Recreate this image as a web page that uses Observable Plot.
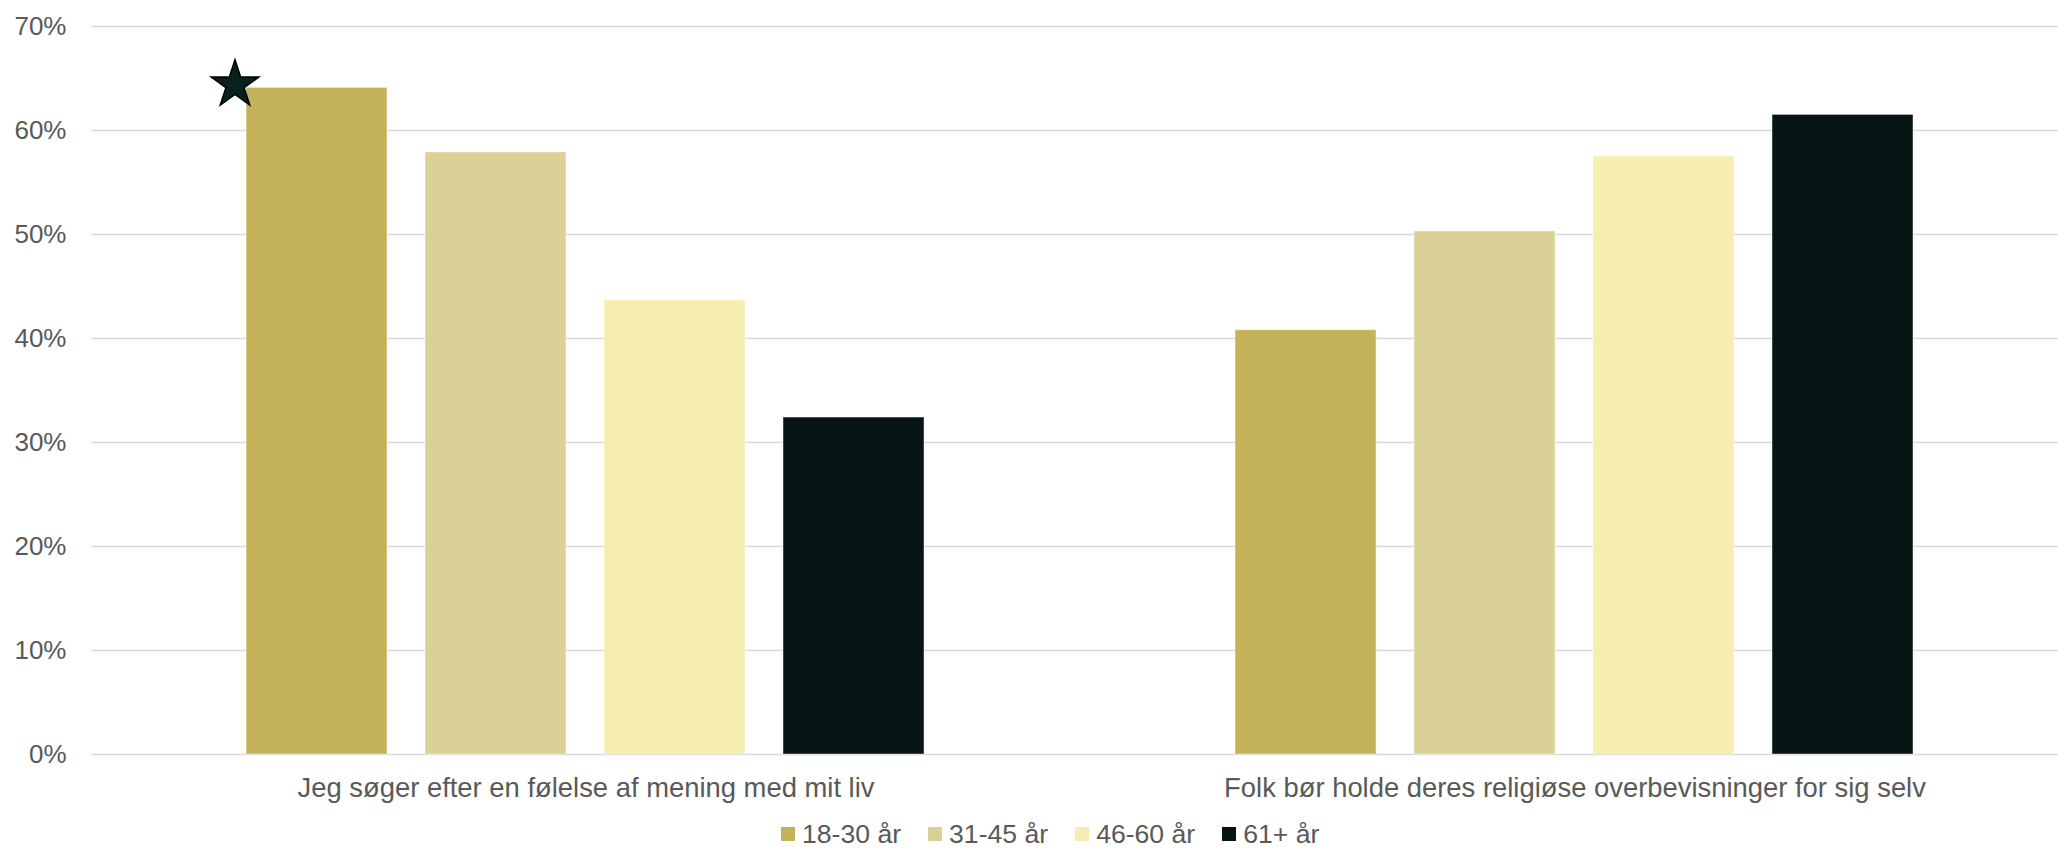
<!DOCTYPE html>
<html>
<head>
<meta charset="utf-8">
<script src="https://cdn.jsdelivr.net/npm/d3@7"></script>
<script src="https://cdn.jsdelivr.net/npm/@observablehq/plot@0.6"></script>
<style>
  html, body { margin: 0; padding: 0; background: #fff; overflow: hidden; }
  #chart { width: 2058px; overflow: hidden; }
  #chart svg { max-width: none !important; }
  #legend { padding-left: 781px; margin-top: 11px; }
  div .lg-swatches { min-height: 0 !important; line-height: 1 !important; }
  div .lg-swatch > svg { margin-right: 7px !important; }
  div .lg-swatch { margin-right: 27px !important; }
</style>
</head>
<body>
<div id="chart"></div>
<div id="legend"></div>
<script>
// ---- data ----
const statements = [
  "Jeg søger efter en følelse af mening med mit liv",
  "Folk bør holde deres religiøse overbevisninger for sig selv"
];
const ageGroups = ["18-30 år", "31-45 år", "46-60 år", "61+ år"];
const meaningValues = [64.1, 57.9, 43.7, 32.4];
const privateBeliefValues = [40.8, 50.3, 57.5, 61.5];
const ageColors = ["#C4B35A", "#DAD196", "#F6EDB0", "#061414"];
const yTicks = [0, 10, 20, 30, 40, 50, 60, 70];
const yTickLabels = ["0%", "10%", "20%", "30%", "40%", "50%", "60%", "70%"];
// star annotation on the first bar
const starStatement = statements[0];
const starAge = ageGroups[0];
const starValue = 64.4;

const rows = [];
ageGroups.forEach((a, i) => rows.push({statement: statements[0], age: a, value: meaningValues[i]}));
ageGroups.forEach((a, i) => rows.push({statement: statements[1], age: a, value: privateBeliefValues[i]}));

const font = "'Liberation Sans', Arial, sans-serif";

const chart = Plot.plot({
  width: 2069,
  height: 810,
  marginLeft: 90,
  marginRight: 0,
  marginTop: 26,
  marginBottom: 56,
  style: {fontFamily: font, fontSize: "26px", color: "#595959", background: "#fff"},
  fx: {domain: statements, padding: 0, label: null},
  x: {domain: ageGroups, paddingInner: 0.212, paddingOuter: 0.862, axis: null},
  y: {domain: [0, 70], label: null},
  color: {domain: ageGroups, range: ageColors},
  marks: [
    Plot.gridY(yTicks, {stroke: "#d9d9d9", strokeOpacity: 1, strokeWidth: 1.3}),
    Plot.barY(rows, {fx: "statement", x: "age", y: "value", fill: "age", stroke: "#ffffff", strokeOpacity: 0.45, strokeWidth: 1}),
    Plot.dot([{statement: starStatement, age: starAge, value: starValue}], {
      fx: "statement", x: "age", y: "value", symbol: "star", r: 15, dx: -82,
      fill: "#08211f", stroke: "#000", strokeWidth: 1.5
    }),
    Plot.axisY(yTicks, {anchor: "left", tickSize: 0, tickPadding: 25, label: null,
      tickFormat: (d) => yTickLabels[yTicks.indexOf(d)], fill: "#595959", fontSize: 26}),
    Plot.axisFx({anchor: "bottom", tickSize: 0, tickPadding: 23, label: null, fill: "#595959", fontSize: 27.4})
  ]
});
document.getElementById("chart").appendChild(chart);

const legend = Plot.legend({
  color: {domain: ageGroups, range: ageColors},
  legend: "swatches",
  swatchSize: 14,
  className: "lg",
  style: {fontFamily: font, fontSize: "26.6px", color: "#595959"}
});
document.getElementById("legend").appendChild(legend);
</script>
</body>
</html>
